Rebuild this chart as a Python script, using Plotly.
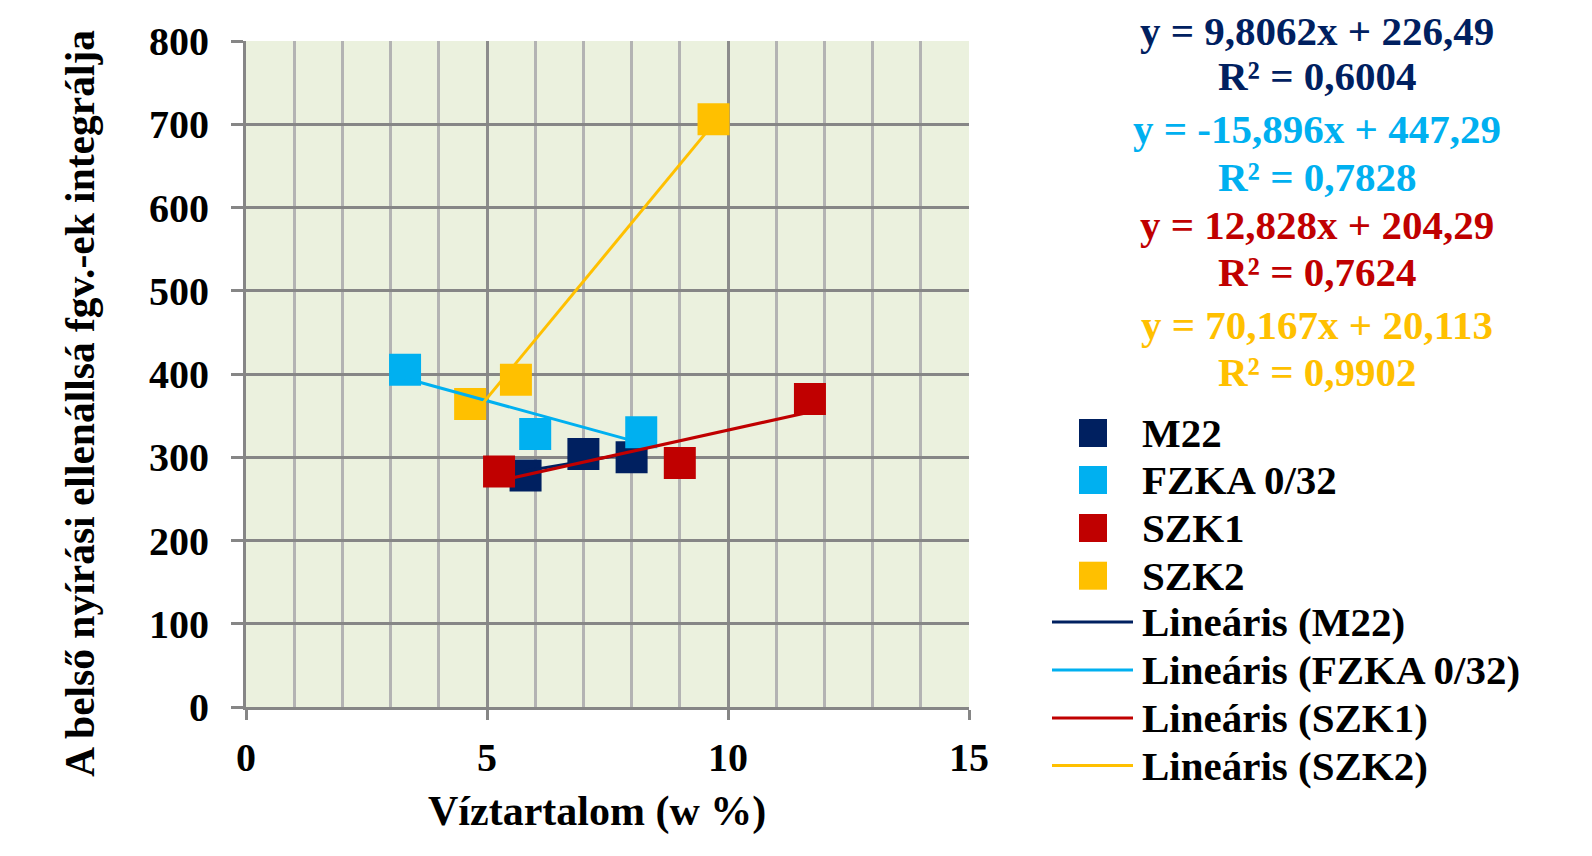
import plotly.graph_objects as go
import numpy as np

# ---- data ----
series_names = ["M22", "FZKA 0/32", "SZK1", "SZK2"]
colors = ["#002060", "#00B0F0", "#C00000", "#FFC000"]
m22_x = [5.8, 7.0, 8.0]
m22_y = [278, 304, 300]
fzka_x = [3.3, 6.0, 8.2]
fzka_y = [405, 328, 330]
szk1_x = [5.25, 9.0, 11.7]
szk1_y = [283, 293, 370]
szk2_x = [4.65, 5.6, 9.7]
szk2_y = [364, 393, 706]
slopes = [9.8062, -15.896, 12.828, 70.167]
intercepts = [226.49, 447.29, 204.29, 20.113]
eq_texts = ["y = 9,8062x + 226,49", "y = -15,896x + 447,29", "y = 12,828x + 204,29", "y = 70,167x + 20,113"]
r2_texts = ["R² = 0,6004", "R² = 0,7828", "R² = 0,7624", "R² = 0,9902"]
x_title = "Víztartalom (w %)"
y_title = "A belső nyírási ellenállsá fgv.-ek integrálja"

xs = [m22_x, fzka_x, szk1_x, szk2_x]
ys = [m22_y, fzka_y, szk1_y, szk2_y]

OFF = 8  # page body margin
W, H = 1592 - OFF, 856 - OFF
L, R, T, B = 246 - OFF, 969 - OFF, 41 - OFF, 707 - OFF
FONT = "Liberation Serif"

fig = go.Figure()
for name, c, x, y in zip(series_names, colors, xs, ys):
    fig.add_trace(go.Scatter(x=x, y=y, mode="markers", name=name,
                             marker=dict(symbol="square", size=32, color=c, line=dict(width=0)),
                             showlegend=False))
for name, c, x, m, b in zip(series_names, colors, xs, slopes, intercepts):
    tx = np.array([min(x), max(x)])
    fig.add_trace(go.Scatter(x=tx, y=m * tx + b, mode="lines", name="Lineáris (" + name + ")",
                             line=dict(color=c, width=3), showlegend=False))

def px(xp):  # page pixel -> paper
    return (xp - OFF - L) / (R - L)

def py(yp):
    return (B - (yp - OFF)) / (B - T)

ann = []
shapes = []
eq_y = [30.5, 76, 129, 177, 225, 272, 325, 372]
for i in range(4):
    for j, t in enumerate([eq_texts[i], r2_texts[i]]):
        ann.append(dict(x=px(1317), y=py(eq_y[2 * i + j]), xref="paper", yref="paper",
                        text="<b>" + t + "</b>", showarrow=False, xanchor="center", yanchor="middle",
                        font=dict(family=FONT, size=41, color=colors[i])))

leg_rows = [433, 480, 528, 575.7, 622, 670, 718, 765.5]
labels = series_names + ["Lineáris (" + n + ")" for n in series_names]
for k, lab in enumerate(labels):
    yc = leg_rows[k]
    c = colors[k % 4]
    if k < 4:
        shapes.append(dict(type="rect", xref="paper", yref="paper",
                           x0=px(1079), x1=px(1107), y0=py(yc + 14), y1=py(yc - 14),
                           fillcolor=c, line=dict(width=0)))
    else:
        shapes.append(dict(type="line", xref="paper", yref="paper",
                           x0=px(1052), x1=px(1133), y0=py(yc), y1=py(yc),
                           line=dict(color=c, width=3)))
    ann.append(dict(x=px(1140), y=py(yc), xref="paper", yref="paper",
                    text="<b>" + lab + "</b>", showarrow=False, xanchor="left", yanchor="middle",
                    font=dict(family=FONT, size=41, color="black")))

# axis titles
ann.append(dict(x=px(597), y=py(811), xref="paper", yref="paper", text="<b>" + x_title + "</b>",
                showarrow=False, xanchor="center", yanchor="middle",
                font=dict(family=FONT, size=42, color="black")))
ann.append(dict(x=px(80), y=py(404), xref="paper", yref="paper", text="<b>" + y_title + "</b>",
                showarrow=False, xanchor="center", yanchor="middle", textangle=-90,
                font=dict(family=FONT, size=41.5, color="black")))

fig.update_layout(
    width=W, height=H,
    margin=dict(l=L, r=W - R, t=T, b=H - B),
    paper_bgcolor="white", plot_bgcolor="#EBF1DE",
    annotations=ann, shapes=shapes, showlegend=False,
    font=dict(family=FONT, color="black"),
)
fig.update_xaxes(range=[0, 15], dtick=5, tick0=0, showgrid=True, gridcolor="#8C8C8C", gridwidth=3,
                 minor=dict(dtick=1, showgrid=True, gridcolor="#B3B3B3", gridwidth=3, ticks=""),
                 showline=True, linecolor="#868686", linewidth=3, ticks="outside", ticklen=10,
                 tickwidth=3, tickcolor="#868686", zeroline=False, ticklabelstandoff=3,
                 tickfont=dict(family=FONT, size=40, weight="bold", color="black"))
fig.update_yaxes(range=[0, 800], dtick=100, showgrid=True, gridcolor="#868686", gridwidth=3,
                 showline=True, linecolor="#868686", linewidth=3, ticks="outside", ticklen=12,
                 tickwidth=3, tickcolor="#868686", zeroline=False, ticklabelstandoff=14,
                 tickfont=dict(family=FONT, size=40, weight="bold", color="black"))

fig.write_html("out.html")
